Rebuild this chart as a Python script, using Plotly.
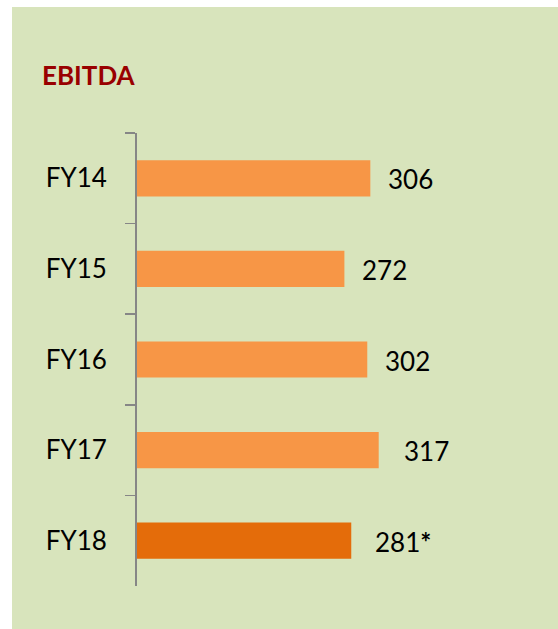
import plotly.graph_objects as go

categories = ["FY14", "FY15", "FY16", "FY17", "FY18"]
ebitda = [306, 272, 302, 317, 281]
value_labels = ["306", "272", "302", "317", "281<b>*</b>"]
title_text = "EBITDA"

bar_colors = ["#F79646", "#F79646", "#F79646", "#F79646", "#E46C0A"]
label_gaps = [16, 16, 16, 23, 22]

W, H = 558, 629
L, T, B = 137, 133, 43
XMAX = 400
plot_w = 305
R = W - L - plot_w
plot_h = H - T - B

fig = go.Figure()
fig.add_trace(go.Bar(
    x=ebitda, y=categories, orientation="h",
    marker=dict(color=bar_colors, line=dict(width=0)),
    width=0.4, hoverinfo="skip",
))

for c, v, t, g in zip(categories, ebitda, value_labels, label_gaps):
    fig.add_annotation(x=v, y=c, xref="x", yref="y", text=t, showarrow=False,
                       xanchor="left", yanchor="middle", xshift=g, yshift=-1,
                       font=dict(family="Lato", size=26, color="#000000"))

# green panel
def px2paperx(px):
    return (px - L) / plot_w

def py2papery(py):
    return (H - B - py) / plot_h

fig.add_shape(type="rect", xref="paper", yref="paper",
              x0=px2paperx(12), x1=px2paperx(W + 5),
              y0=py2papery(H + 5), y1=py2papery(7),
              fillcolor="#D8E4BC", line=dict(width=0), layer="below")

fig.update_layout(
    width=W, height=H,
    margin=dict(l=L, r=R, t=T, b=B, pad=0),
    paper_bgcolor="#FFFFFF",
    plot_bgcolor="rgba(0,0,0,0)",
    showlegend=False,
    title=dict(text="<b>" + title_text + "</b>", x=42 / W, xref="container", xanchor="left",
               y=1 - 75.5 / H, yref="container", yanchor="middle",
               font=dict(family="Lato", size=26, color="#990000")),
    xaxis=dict(range=[0, XMAX], visible=False, showgrid=False, zeroline=False, fixedrange=True),
    yaxis=dict(autorange="reversed", showline=True, linecolor="#868686", linewidth=2,
               ticks="outside", ticklen=10, tickwidth=1.5, tickcolor="#868686",
               tickson="boundaries", ticklabelstandoff=23, showgrid=False, zeroline=False,
               fixedrange=True,
               tickfont=dict(family="Lato", size=26, color="#000000")),
)

fig.write_html("out.html", config={"displayModeBar": False, "staticPlot": True},
               post_script="document.body.style.margin='0px';document.body.style.overflow='hidden';")
